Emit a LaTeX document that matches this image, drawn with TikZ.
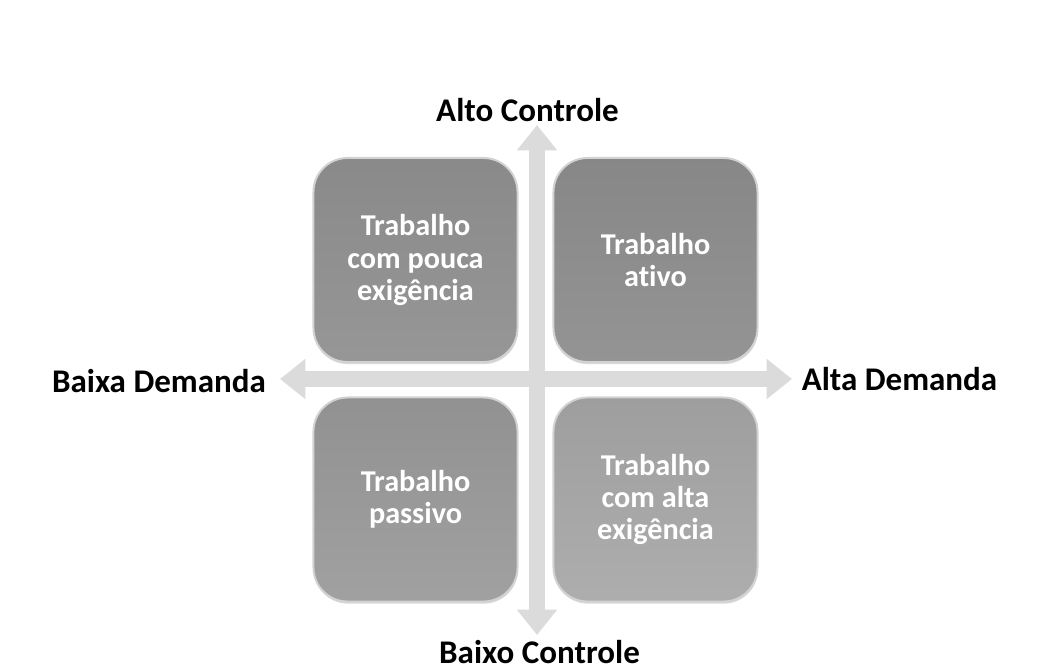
\documentclass[tikz,border=0pt]{standalone}
\usepackage{fontspec}
\setmainfont[Ligatures=NoCommon]{Carlito}
\usepackage{tikz}
\usetikzlibrary{arrows.meta, shadows}

\begin{document}
\begin{tikzpicture}[x=0.025cm, y=-0.025cm,
  quadro/.style={rounded corners=0.85cm, minimum width=5.1cm, minimum height=5.1cm,
    draw=gray!35, line width=1.4pt, align=center, text=white,
    font=\fontsize{21.5}{23}\selectfont\bfseries,
    drop shadow={opacity=0.3, shadow xshift=0.3pt, shadow yshift=-1.5pt}},
  eixo/.style={font=\fontsize{23.5}{26}\selectfont\bfseries, text=black, inner sep=1pt},
  seta/.style={line width=10.7pt, draw=black!14,
    {Triangle[length=18pt, width=27.5pt]}-{Triangle[length=18pt, width=27.5pt]}}]
\useasboundingbox (0,0) rectangle (1047,671);
% eixos
\coordinate (cima) at (537,125);
\coordinate (baixo) at (537,635);
\coordinate (esq) at (280,379);
\coordinate (dir) at (792,379);
\draw[seta] (baixo) -- (cima);
\draw[seta] (esq) -- (dir);
% quadrantes
\node[quadro, top color=black!46, bottom color=black!41] (q1) at (415.5,260) {Trabalho\\com pouca\\exigência};
\node[quadro, top color=black!47, bottom color=black!42] (q2) at (655.5,260) {Trabalho\\ativo};
\node[quadro, top color=black!43, bottom color=black!37] (q3) at (415.5,499.5) {Trabalho\\passivo};
\node[quadro, top color=black!38, bottom color=black!32] (q4) at (655.5,499.5) {Trabalho\\com alta\\exigência};
% rotulos
\node[eixo] (altoc) at (527.5,110) {Alto Controle};
\node[eixo] (baixoc) at (539.5,652) {Baixo Controle};
\node[eixo] (baixad) at (159,381) {Baixa Demanda};
\node[eixo] (altad) at (899.5,379) {Alta Demanda};
\end{tikzpicture}
\end{document}
